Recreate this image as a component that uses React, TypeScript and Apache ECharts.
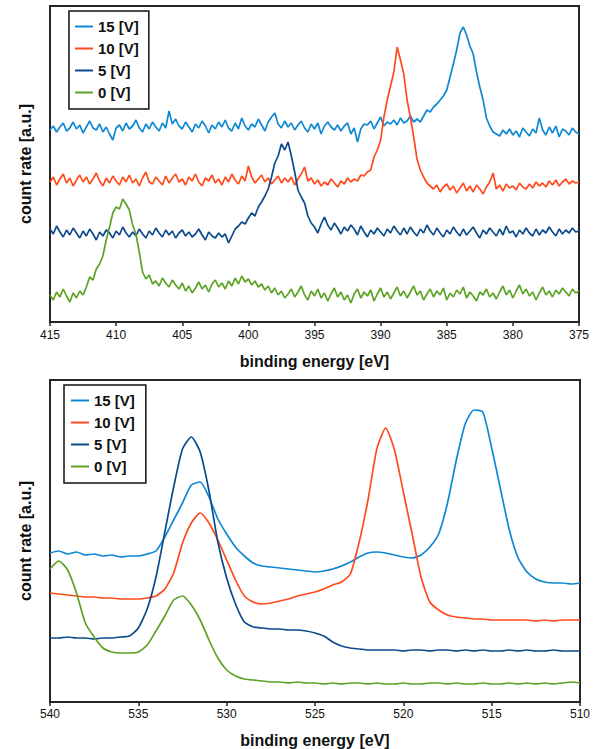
import React, { useEffect, useRef } from "react";
import * as echarts from "echarts";

// ---------- data ----------
const SERIES_NAMES = ["15 [V]", "10 [V]", "5 [V]", "0 [V]"];
const COLORS = ["#0f88d4", "#ff4a1c", "#0b4a8c", "#5ca223"];

// top panel: binding energy 415 -> 375 eV, sampled every 0.25 eV
const TOP_E_START = 415;
const TOP_E_STEP = 0.25;
const TOP_MIN = 375;
const TOP_MAX = 415;

const TOP_15V = [
  192, 196, 190, 195, 199, 191, 194, 200, 193, 197, 189, 195, 201, 194, 192, 198,
  190, 195, 188, 182, 194, 197, 191, 199, 193, 196, 202, 194, 190, 198, 193, 200,
  195, 191, 199, 194, 211, 198, 203, 196, 193, 200, 195, 190, 198, 194, 201, 196,
  189, 197, 193, 200, 195, 202, 194, 191, 199, 193, 204, 196, 192, 198, 195, 203,
  197, 191, 200, 205, 209, 198, 194, 201, 195, 199, 192, 197, 201, 194, 190, 198,
  193, 199, 188, 196, 200, 195, 192, 197, 191, 196, 199, 188, 194, 180, 193, 198,
  197, 201, 193, 199, 205, 196, 200, 198, 202, 197, 204, 199, 201, 206, 200, 203,
  200, 206, 212, 210, 215, 218, 222, 226, 232, 245, 258, 272, 289, 295, 287, 276,
  268, 250, 235, 222, 204, 196, 190, 188, 186, 192, 188, 193, 187, 191, 185, 194,
  190, 186, 193, 189, 204, 192, 187, 195, 189, 196, 185, 193, 191, 187, 194, 190,
  188,
];

const TOP_10V = [
  140, 145, 137, 143, 148, 139, 144, 136, 142, 147, 140, 145, 138, 143, 149, 141,
  136, 144, 139, 146, 141, 137, 145, 140, 147, 139, 143, 136, 144, 150, 140, 138,
  145, 141, 137, 146, 139, 144, 148, 140, 143, 137, 145, 141, 148, 140, 136, 144,
  141, 147, 139, 143, 137, 145, 140, 148, 142, 138, 146, 141, 156, 145, 139, 143,
  147, 140, 144, 138, 142, 146, 139, 144, 140, 145, 137, 143, 148, 155, 141, 144,
  138, 142, 136, 140, 137, 143, 139, 135, 141, 138, 144, 140, 143, 141, 147, 146,
  150, 152, 165, 172, 182, 205, 222, 236, 250, 275, 262, 248, 222, 205, 185, 163,
  152, 145, 139, 136, 133, 137, 130, 135, 138, 132, 136, 129, 134, 139, 131, 136,
  130, 137, 133, 128, 135, 140, 149, 133, 137, 131, 138, 134, 136, 132, 139, 135,
  133, 138, 134, 140, 136, 139, 135, 141, 137, 142, 136, 140, 143, 138, 141, 139,
  140,
];

const TOP_5V = [
  93, 88, 96, 90, 85, 92, 87, 94, 89, 84, 91, 86, 93, 88, 82, 90,
  86, 92, 89, 84, 91, 87, 95, 89, 85, 90, 86, 93, 88, 84, 91, 87,
  94, 89, 85, 92, 87, 91, 84, 89, 92, 86, 90, 85, 88, 93, 87, 82,
  90, 86, 84, 89, 85, 88, 79, 86, 93, 96, 100, 98, 104, 109, 106, 115,
  120, 126, 133, 145, 159, 166, 178, 172, 180, 166, 150, 132, 125, 119, 106, 99,
  95, 89, 98, 105, 97, 92, 99, 94, 88, 95, 91, 97, 93, 87, 96, 90,
  85, 92, 88, 94, 90, 86, 93, 89, 96, 91, 87, 94, 88, 95, 90, 86,
  93, 89, 97, 91, 87, 94, 89, 85, 92, 88, 95, 90, 86, 93, 87, 91,
  95, 89, 84, 92, 88, 94, 90, 86, 93, 87, 96, 89, 91, 85, 92, 88,
  94, 89, 86, 93, 87, 92, 89, 95, 90, 86, 93, 88, 92, 89, 94, 90,
  91,
];

const TOP_0V = [
  27, 22, 30, 25, 33, 26, 20, 29, 24, 31, 27, 35, 45, 42, 53, 58,
  66, 82, 95, 109, 115, 113, 123, 118, 112, 97, 88, 70, 50, 43, 47, 38,
  41, 36, 44, 39, 35, 42, 37, 33, 39, 31, 36, 29, 34, 40, 33, 37,
  30, 38, 42, 35, 39, 33, 41, 36, 44, 38, 46, 40, 43, 37, 41, 35,
  38, 32, 36, 29, 34, 27, 31, 24, 28, 33, 25, 30, 36, 27, 22, 31,
  26, 33, 24, 29, 21, 28, 34, 25, 30, 22, 27, 19, 28, 33, 24, 30,
  26, 32, 21, 28, 34, 25, 30, 23, 29, 35, 26, 31, 24, 30, 36, 27,
  31, 22, 28, 33, 25, 31, 27, 34, 22, 29, 25, 32, 28, 35, 24, 30,
  26, 21, 30, 27, 33, 25, 29, 23, 30, 36, 27, 32, 24, 31, 37, 28,
  33, 26, 30, 22, 29, 35, 27, 31, 25, 32, 28, 34, 30, 26, 33, 29,
  31,
];

// bottom panel: binding energy 540 -> 510 eV, sampled every 0.5 eV
const BOT_E_START = 540;
const BOT_E_STEP = 0.5;
const BOT_MIN = 510;
const BOT_MAX = 540;

const BOT_15V = [
  149, 151, 148, 150, 147, 148, 146, 147, 145, 146, 146, 148, 151, 165, 182, 199,
  217, 220, 205, 183, 168, 155, 146, 139, 136, 135, 134, 133, 132, 131, 130, 131,
  133, 136, 140, 145, 149, 150, 149, 147, 145, 144, 147, 155, 168, 199, 242, 278,
  292, 290, 254, 213, 172, 144, 130, 123, 120, 119, 119, 118, 119,
];

const BOT_10V = [
  109, 108, 107, 106, 105, 105, 104, 104, 103, 103, 103, 104, 106, 113, 129, 159,
  179, 189, 179, 162, 142, 122, 106, 100, 98, 99, 101, 103, 106, 108, 110, 113,
  117, 120, 128, 160, 202, 253, 274, 252, 210, 168, 125, 100, 92, 87, 85, 84,
  83, 83, 82, 82, 82, 82, 82, 81, 82, 81, 82, 82, 82,
];

const BOT_5V = [
  64, 64, 65, 64, 64, 63, 64, 64, 65, 66, 74, 93, 125, 170, 215, 253,
  265, 250, 211, 160, 124, 98, 80, 75, 74, 73, 73, 72, 72, 71, 69, 66,
  60, 56, 54, 53, 52, 52, 52, 52, 51, 52, 52, 51, 52, 52, 51, 52,
  51, 52, 51, 51, 52, 51, 52, 51, 51, 52, 51, 51, 51,
];

const BOT_0V = [
  133, 141, 132, 109, 79, 65, 54, 50, 49, 49, 50, 57, 71, 86, 102, 106,
  97, 82, 62, 44, 32, 26, 23, 22, 21, 20, 20, 19, 20, 19, 19, 18,
  19, 18, 19, 19, 18, 19, 18, 18, 19, 18, 18, 19, 19, 18, 19, 18,
  18, 19, 18, 18, 19, 18, 19, 18, 19, 18, 19, 20, 19,
];

const TOP_VALUES = [TOP_15V, TOP_10V, TOP_5V, TOP_0V];
const BOT_VALUES = [BOT_15V, BOT_10V, BOT_5V, BOT_0V];

const X_TITLE = "binding energy [eV]";
const Y_TITLE = "count rate [a.u.]";

// ---------- chart ----------
const FONT = "'Liberation Sans', Arial, Helvetica, sans-serif";
const AXIS_COLOR = "#262626";

function toPairs(values: number[], start: number, step: number) {
  return values.map((v, i) => [start - i * step, v]);
}

function xAxisCfg(gridIndex: number, min: number, max: number, margin: number, nameGap: number) {
  return {
    gridIndex,
    type: "value",
    inverse: true,
    min,
    max,
    interval: 5,
    axisLine: { show: true, lineStyle: { color: AXIS_COLOR, width: 2 } },
    axisTick: { show: true, length: 4, lineStyle: { color: AXIS_COLOR, width: 1.5 } },
    axisLabel: { margin, fontSize: 12, color: "#111", fontFamily: FONT },
    splitLine: { show: false },
    name: X_TITLE,
    nameLocation: "middle",
    nameGap,
    nameTextStyle: { fontSize: 16, fontWeight: "bold", color: "#111", fontFamily: FONT },
  };
}

function yAxisCfg(gridIndex: number, max: number) {
  return {
    gridIndex,
    type: "value",
    min: 0,
    max,
    axisLine: { show: false },
    axisTick: { show: false },
    axisLabel: { show: false },
    splitLine: { show: false },
    name: Y_TITLE,
    nameLocation: "middle",
    nameGap: 17,
    nameTextStyle: { fontSize: 16, fontWeight: "bold", color: "#111", fontFamily: FONT },
  };
}

function legendCfg(left: number, top: number, padding: number[]) {
  return {
    show: true,
    orient: "vertical",
    left,
    top,
    padding,
    itemGap: 7,
    itemWidth: 18,
    itemHeight: 2,
    icon: "rect",
    borderColor: "#111",
    borderWidth: 1.5,
    borderRadius: 0,
    backgroundColor: "#fff",
    selectedMode: false,
    data: SERIES_NAMES,
    textStyle: { fontSize: 15, fontWeight: "bold", color: "#111", fontFamily: FONT, lineHeight: 15 },
  };
}

export default function App() {
  const ref = useRef<HTMLDivElement>(null);

  useEffect(() => {
    if (!ref.current) return;
    const chart = echarts.init(ref.current, undefined, { renderer: "svg" });

    const series: any[] = [];
    TOP_VALUES.forEach((vals, i) => {
      series.push({
        type: "line",
        name: SERIES_NAMES[i],
        xAxisIndex: 0,
        yAxisIndex: 0,
        data: toPairs(vals, TOP_E_START, TOP_E_STEP),
        symbol: "none",
        color: COLORS[i],
        lineStyle: { color: COLORS[i], width: 1.7 },
      });
    });
    BOT_VALUES.forEach((vals, i) => {
      series.push({
        type: "line",
        name: SERIES_NAMES[i],
        xAxisIndex: 1,
        yAxisIndex: 1,
        data: toPairs(vals, BOT_E_START, BOT_E_STEP),
        symbol: "none",
        smooth: 0.2,
        color: COLORS[i],
        lineStyle: { color: COLORS[i], width: 1.7 },
      });
    });

    chart.setOption({
      animation: false,
      backgroundColor: "#ffffff",
      textStyle: { fontFamily: FONT },
      grid: [
        { left: 50, top: 6, width: 529, height: 316, show: true, borderColor: AXIS_COLOR, borderWidth: 2, backgroundColor: "transparent" },
        { left: 50, top: 380, width: 530, height: 322, show: true, borderColor: AXIS_COLOR, borderWidth: 2, backgroundColor: "transparent" },
      ],
      xAxis: [
        xAxisCfg(0, TOP_MIN, TOP_MAX, 7, 31),
        xAxisCfg(1, BOT_MIN, BOT_MAX, 6, 30),
      ],
      yAxis: [yAxisCfg(0, 316), yAxisCfg(1, 322)],
      legend: [
        legendCfg(69, 11, [8, 10, 9, 6]),
        legendCfg(64, 385, [8, 11, 9, 7]),
      ],
      series,
    });

    return () => chart.dispose();
  }, []);

  return (
    <div
      ref={ref}
      style={{ position: "fixed", left: 0, top: 0, width: 594, height: 749, background: "#fff" }}
    />
  );
}
